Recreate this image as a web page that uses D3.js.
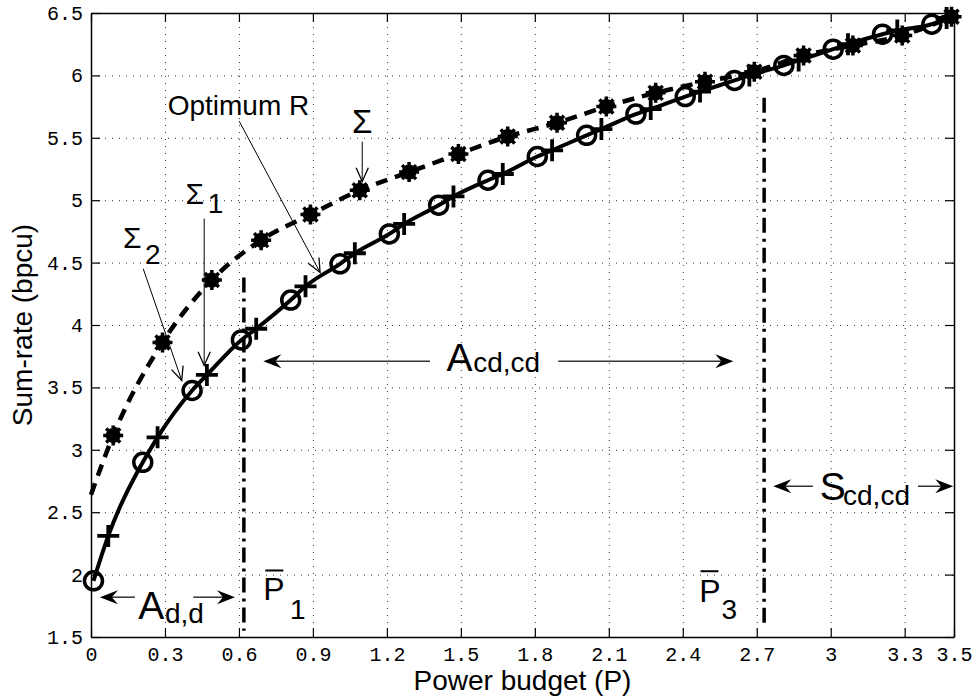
<!DOCTYPE html>
<html>
<head>
<meta charset="utf-8">
<script src="https://cdn.jsdelivr.net/npm/d3@7"></script>
<style>
body { margin: 0; background: #fff; }
</style>
</head>
<body>
<div id="chart"></div>
<script>
// values
var xTicks = [0, 0.3, 0.6, 0.9, 1.2, 1.5, 1.8, 2.1, 2.4, 2.7, 3, 3.3, 3.5];
var yTicks = [1.5, 2, 2.5, 3, 3.5, 4, 4.5, 5, 5.5, 6, 6.5];

// Sigma_2 (circles)
var sigma2P = [0.01, 0.21, 0.41, 0.61, 0.81, 1.01, 1.21, 1.41, 1.61, 1.81, 2.01, 2.21, 2.41, 2.61, 2.81, 3.01, 3.21, 3.41];
var sigma2R = [1.95, 2.90, 3.475, 3.88, 4.20, 4.49, 4.73, 4.96, 5.16, 5.35, 5.52, 5.69, 5.83, 5.96, 6.08, 6.21, 6.33, 6.41];

// Sigma_1 (plus)
var sigma1P = [0.07, 0.27, 0.47, 0.67, 0.87, 1.07, 1.27, 1.47, 1.67, 1.87, 2.07, 2.27, 2.47, 2.67, 2.87, 3.07, 3.27, 3.47];
var sigma1R = [2.31, 3.10, 3.60, 3.97, 4.31, 4.575, 4.81, 5.03, 5.21, 5.40, 5.57, 5.73, 5.87, 6.00, 6.12, 6.25, 6.36, 6.46];

// Sigma (stars, dashed)
var sigmaP = [0.09, 0.29, 0.49, 0.69, 0.89, 1.09, 1.29, 1.49, 1.69, 1.89, 2.09, 2.29, 2.49, 2.69, 2.89, 3.09, 3.29, 3.49];
var sigmaR = [3.115, 3.86, 4.36, 4.68, 4.885, 5.08, 5.225, 5.37, 5.51, 5.62, 5.75, 5.86, 5.95, 6.03, 6.16, 6.24, 6.32, 6.47];
var sigmaStart = [0, 2.64];

// P-bar thresholds (dash-dot lines)
var pBar = [0.62, 2.73];
var pBarTop = [4.38, 5.82];
var pBarBottom = [1.55, 1.58];

var width = 978, height = 698;
var x = d3.scaleLinear().domain([0, 3.5]).range([91, 954]);
var y = d3.scaleLinear().domain([1.5, 6.5]).range([637, 13]);
var plotW = x(3.5) - x(0), plotH = y(1.5) - y(6.5);

var svg = d3.select("#chart").append("svg")
  .attr("width", width).attr("height", height);
svg.append("rect").attr("width", width).attr("height", height).attr("fill", "#fff");

// dotted grid
svg.append("g").attr("class", "grid")
  .attr("transform", "translate(0," + y(1.5) + ")")
  .call(d3.axisBottom(x).tickValues(xTicks).tickSize(-plotH).tickFormat(""));
svg.append("g").attr("class", "grid")
  .attr("transform", "translate(" + x(0) + ",0)")
  .call(d3.axisLeft(y).tickValues(yTicks).tickSize(-plotW).tickFormat(""));
svg.selectAll(".grid .domain").remove();
svg.selectAll(".grid line")
  .attr("stroke", "#333").attr("stroke-width", 1).attr("stroke-dasharray", "1,6");

var plot = svg.append("g");

// Sigma dashed curve
var sigmaLine = [sigmaStart].concat(d3.zip(sigmaP, sigmaR));
var line = d3.line().x(function(d) { return x(d[0]); }).y(function(d) { return y(d[1]); })
  .curve(d3.curveMonotoneX);

plot.append("path").datum(sigmaLine)
  .attr("d", line).attr("fill", "none").attr("stroke", "#000")
  .attr("stroke-width", 4.5).attr("stroke-dasharray", "12,8");

// star markers
var stars = plot.selectAll(".star").data(d3.zip(sigmaP, sigmaR)).enter().append("g")
  .attr("transform", function(d) { return "translate(" + x(d[0]) + "," + y(d[1]) + ")"; });
stars.append("circle").attr("r", 7.5).attr("fill", "#000");
stars.append("path").attr("d", "M-10,0H10M0,-10V10M-7,-7L7,7M-7,7L7,-7")
  .attr("stroke", "#000").attr("stroke-width", 3.5);

// optimum R solid curve through both marker sets
var optLine = d3.zip(sigma2P, sigma2R).concat(d3.zip(sigma1P, sigma1R))
  .sort(function(a, b) { return a[0] - b[0]; });
plot.append("path").datum(optLine)
  .attr("d", line).attr("fill", "none").attr("stroke", "#000").attr("stroke-width", 4);

plot.selectAll(".circ").data(d3.zip(sigma2P, sigma2R)).enter().append("circle")
  .attr("cx", function(d) { return x(d[0]); })
  .attr("cy", function(d) { return y(d[1]); })
  .attr("r", 9).attr("fill", "none").attr("stroke", "#000").attr("stroke-width", 3.5);

plot.selectAll(".plus").data(d3.zip(sigma1P, sigma1R)).enter().append("path")
  .attr("transform", function(d) { return "translate(" + x(d[0]) + "," + y(d[1]) + ")"; })
  .attr("d", "M-11,0H11M0,-11V11").attr("stroke", "#000").attr("stroke-width", 3.8);

// dash-dot thresholds
plot.selectAll(".pbar").data(pBar).enter().append("line")
  .attr("x1", function(d) { return x(d); }).attr("x2", function(d) { return x(d); })
  .attr("y1", function(d, i) { return y(pBarTop[i]); })
  .attr("y2", function(d, i) { return y(pBarBottom[i]); })
  .attr("stroke", "#000").attr("stroke-width", 3.5).attr("stroke-dasharray", "15,6,3,6");

// axes box with inward ticks
function fmt(d) { return String(d); }
svg.append("g").attr("transform", "translate(0," + y(1.5) + ")")
  .call(d3.axisBottom(x).tickValues(xTicks).tickSizeInner(-9).tickSizeOuter(0).tickPadding(10).tickFormat(fmt));
svg.append("g").attr("transform", "translate(" + x(0) + ",0)")
  .call(d3.axisLeft(y).tickValues(yTicks).tickSizeInner(-9).tickSizeOuter(0).tickPadding(8).tickFormat(fmt));
svg.append("g").attr("transform", "translate(0," + y(6.5) + ")")
  .call(d3.axisTop(x).tickValues(xTicks).tickSizeInner(-9).tickSizeOuter(0).tickFormat(""));
svg.append("g").attr("transform", "translate(" + x(3.5) + ",0)")
  .call(d3.axisRight(y).tickValues(yTicks).tickSizeInner(-9).tickSizeOuter(0).tickFormat(""));
svg.selectAll(".domain").attr("stroke", "#000").attr("stroke-width", 1.5);
svg.selectAll(".tick line").filter(function() { return !this.closest(".grid"); })
  .attr("stroke", "#000").attr("stroke-width", 1.2);
svg.selectAll(".tick text")
  .attr("font-family", "Liberation Mono, Courier New, monospace")
  .attr("font-size", 20).attr("fill", "#000");

// axis labels
svg.append("text").attr("x", (x(0) + x(3.5)) / 2).attr("y", 690)
  .attr("text-anchor", "middle").attr("font-family", "Liberation Sans, Arial, sans-serif")
  .attr("font-size", 28).text("Power budget (P)");
svg.append("text").attr("transform", "translate(32," + (y(1.5) + y(6.5)) / 2 + ") rotate(-90)")
  .attr("text-anchor", "middle").attr("font-family", "Liberation Sans, Arial, sans-serif")
  .attr("font-size", 28).text("Sum-rate (bpcu)");

// annotations
var ann = svg.append("g").attr("font-family", "Liberation Sans, Arial, sans-serif").attr("fill", "#000");

function label(p, r, s, size, anchor) {
  return ann.append("text").attr("x", x(p)).attr("y", y(r))
    .attr("font-size", size).attr("text-anchor", anchor || "start").text(s);
}
function pointer(p1, r1, p2, r2) {
  var x1 = x(p1), y1 = y(r1), x2 = x(p2), y2 = y(r2);
  var a = Math.atan2(y2 - y1, x2 - x1), L = 15, W = 0.42;
  ann.append("line").attr("x1", x1).attr("y1", y1).attr("x2", x2).attr("y2", y2)
    .attr("stroke", "#000").attr("stroke-width", 1);
  ann.append("path")
    .attr("d", "M" + (x2 - L * Math.cos(a - W)) + "," + (y2 - L * Math.sin(a - W)) +
      "L" + x2 + "," + y2 +
      "L" + (x2 - L * Math.cos(a + W)) + "," + (y2 - L * Math.sin(a + W)))
    .attr("fill", "none").attr("stroke", "#000").attr("stroke-width", 1.3);
}
function span(pTip, pEnd, r) {
  var xt = x(pTip), xe = x(pEnd), yy = y(r), dir = xt < xe ? -1 : 1;
  ann.append("line").attr("x1", xe).attr("y1", yy).attr("x2", xt - dir * 10).attr("y2", yy)
    .attr("stroke", "#333").attr("stroke-width", 1.5);
  ann.append("path")
    .attr("d", "M" + xt + "," + yy + "L" + (xt - dir * 18) + "," + (yy - 7) +
      "L" + (xt - dir * 12) + "," + yy + "L" + (xt - dir * 18) + "," + (yy + 7) + "Z")
    .attr("fill", "#000");
}

label(1.10, 5.54, "Σ", 33, "middle");
pointer(1.10, 5.47, 1.10, 5.15);

label(0.383, 4.966, "Σ", 30);
label(0.474, 4.90, "1", 28);
pointer(0.459, 4.853, 0.459, 3.676);

label(0.130, 4.613, "Σ", 30);
label(0.219, 4.485, "2", 28);
pointer(0.212, 4.45, 0.368, 3.555);

label(0.311, 5.684, "Optimum R", 28);
pointer(0.601, 5.633, 0.929, 4.421);

span(0.699, 1.375, 3.71);
label(1.442, 3.635, "A", 39);
label(1.55, 3.62, "cd,cd", 28);
span(2.605, 1.895, 3.71);

span(2.767, 2.928, 2.708);
label(2.956, 2.594, "S", 39);
label(3.05, 2.56, "cd,cd", 28);
span(3.497, 3.354, 2.708);

span(0.036, 0.178, 1.819);
label(0.192, 1.646, "A", 39);
label(0.30, 1.616, "d,d", 28);
span(0.584, 0.415, 1.819);

label(0.699, 1.793, "P", 32);
ann.append("line").attr("x1", x(0.707)).attr("x2", x(0.78)).attr("y1", y(2.033)).attr("y2", y(2.033))
  .attr("stroke", "#000").attr("stroke-width", 2);
label(0.807, 1.648, "1", 28);

label(2.467, 1.779, "P", 32);
ann.append("line").attr("x1", x(2.472)).attr("x2", x(2.545)).attr("y1", y(2.027)).attr("y2", y(2.027))
  .attr("stroke", "#000").attr("stroke-width", 2);
label(2.557, 1.646, "3", 28);
</script>
</body>
</html>
